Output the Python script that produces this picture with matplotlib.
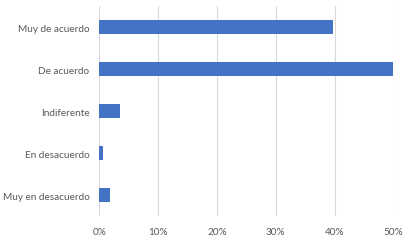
import matplotlib
matplotlib.use("Agg")
import matplotlib.pyplot as plt
from matplotlib.ticker import PercentFormatter

# Respuestas (de arriba hacia abajo en el gráfico)
categorias = ["Muy de acuerdo", "De acuerdo", "Indiferente",
              "En desacuerdo", "Muy en desacuerdo"]
porcentajes = [0.398, 0.501, 0.036, 0.006, 0.018]
ticks_x = [0.0, 0.1, 0.2, 0.3, 0.4, 0.5]

plt.rcParams['font.family'] = ['Lato', 'DejaVu Sans']

fig = plt.figure(figsize=(4.12, 2.51), dpi=100)
ax = fig.add_axes([99.3 / 412, 34 / 251, 294 / 412, 210 / 251])

pos = list(range(len(categorias)))
ax.barh(pos, porcentajes, height=0.35, color="#4472C4", zorder=3)

ax.set_yticks(pos)
ax.set_yticklabels(categorias)
ax.set_ylim(len(categorias) - 0.5, -0.5)

ax.set_xlim(0, 0.5)
ax.set_xticks(ticks_x)
ax.xaxis.set_major_formatter(PercentFormatter(1.0, decimals=0))

ax.grid(axis="x", color="#d9d9d9", linewidth=0.8, zorder=0)
for s in ax.spines.values():
    s.set_visible(False)
ax.tick_params(length=0, labelsize=7.2, colors="#595959")
ax.tick_params(axis="y", pad=7)
ax.tick_params(axis="x", pad=8)

fig.savefig("out.png", dpi=100)
